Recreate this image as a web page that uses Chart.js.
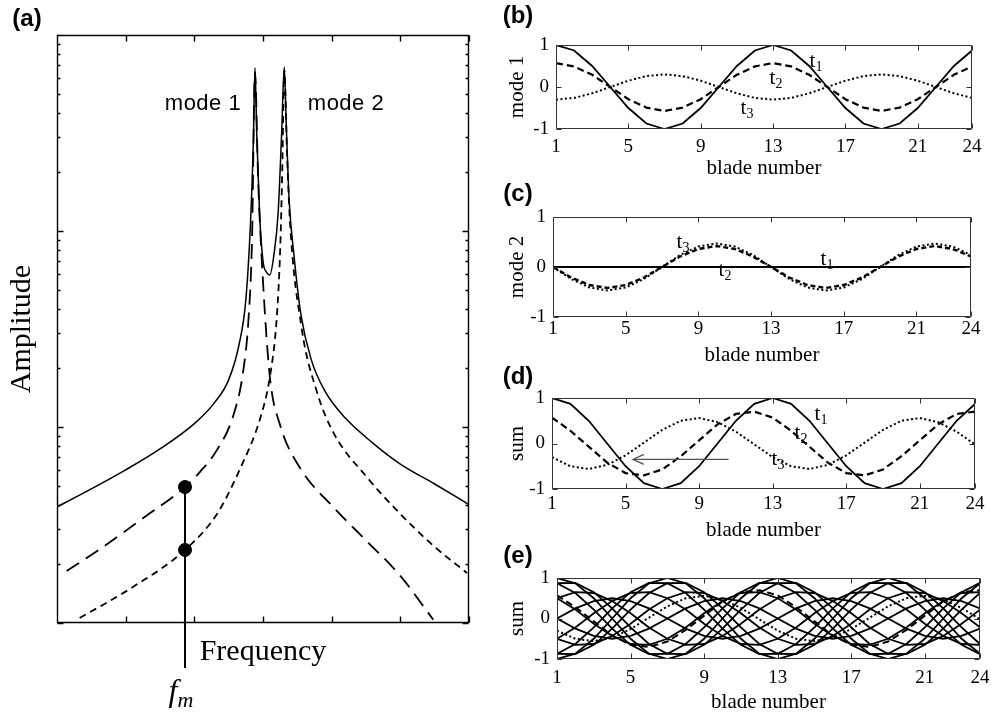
<!DOCTYPE html>
<html>
<head>
<meta charset="utf-8">
<script src="https://cdn.jsdelivr.net/npm/chart.js@4.4.1/dist/chart.umd.min.js"></script>
<style>
  html, body { margin: 0; padding: 0; background: #fff; }
  #fig { position: relative; width: 1002px; height: 714px; overflow: hidden; background: #fff; }
  canvas { position: absolute; }
  .lbl { position: absolute; transform: translate(-50%, -50%); white-space: nowrap; color: #000; line-height: 1; }
  .tag { font: bold 24px "Liberation Sans", Arial, sans-serif; }
  .sans { font-family: "Liberation Sans", Arial, sans-serif; font-size: 22px; letter-spacing: 0.5px; }
  .serif { font-family: "Liberation Serif", "Times New Roman", serif; }
  .t { font-size: 21px; }
  .t sub { font-size: 14px; line-height: 0; vertical-align: -4px; }
  .fm { font-size: 32px; font-style: italic; }
  .fm sub { font-size: 22px; line-height: 0; vertical-align: -6px; }
</style>
</head>
<body>
<div id="fig">
  <canvas id="chartA" width="480" height="714" style="left:0;top:0"></canvas>
  <canvas id="chartB" width="502" height="181" style="left:500px;top:0"></canvas>
  <canvas id="chartC" width="502" height="188" style="left:500px;top:180px"></canvas>
  <canvas id="chartD" width="502" height="183" style="left:500px;top:360px"></canvas>
  <canvas id="chartE" width="502" height="175" style="left:500px;top:540px"></canvas>

  <div class="lbl tag" style="left:27px;top:18px">(a)</div>
  <div class="lbl tag" style="left:518px;top:15px">(b)</div>
  <div class="lbl tag" style="left:518px;top:193px">(c)</div>
  <div class="lbl tag" style="left:518px;top:376px">(d)</div>
  <div class="lbl tag" style="left:518px;top:555px">(e)</div>

  <div class="lbl sans" style="left:203px;top:103px">mode 1</div>
  <div class="lbl sans" style="left:346px;top:103px">mode 2</div>
  <div class="lbl serif fm" style="left:181px;top:690px">f<sub>m</sub></div>

  <div class="lbl serif t" style="left:816px;top:60px">t<sub>1</sub></div>
  <div class="lbl serif t" style="left:776px;top:77px">t<sub>2</sub></div>
  <div class="lbl serif t" style="left:747px;top:107px">t<sub>3</sub></div>

  <div class="lbl serif t" style="left:683px;top:241px">t<sub>3</sub></div>
  <div class="lbl serif t" style="left:725px;top:269px">t<sub>2</sub></div>
  <div class="lbl serif t" style="left:827px;top:258px">t<sub>1</sub></div>

  <div class="lbl serif t" style="left:821px;top:413px">t<sub>1</sub></div>
  <div class="lbl serif t" style="left:801px;top:432px">t<sub>2</sub></div>
  <div class="lbl serif t" style="left:778px;top:458px">t<sub>3</sub></div>
</div>

<script>
// =========================
// DATA - panel (a), frequency response
// =========================
const freqTicks = [0, 1, 2, 3, 4, 5, 6];
const ampTicks = [1, 2, 3, 4, 5, 6, 7, 8, 9, 10, 20, 30, 40, 50, 60, 70, 80, 90,
                  100, 200, 300, 400, 500, 600, 700, 800, 900, 1000];
const ampMajor = [1, 10, 100, 1000];

const freqSum = [0, 0.5, 1.0, 1.5, 2.0, 2.3, 2.5, 2.65, 2.75, 2.82, 2.86, 2.883, 2.91, 2.95, 3.0, 3.05,
                 3.10, 3.16, 3.22, 3.27, 3.31, 3.34, 3.38, 3.45, 3.55, 3.7, 3.9, 4.2, 4.6, 5.0, 5.5, 6.0];
const ampSum = [3.91, 4.83, 6.04, 7.73, 10.4, 13.4, 17.4, 26.2, 44.5, 114, 291, 680, 305, 123, 70.3, 61.7,
                59.7, 75.9, 123, 305, 687, 339, 145, 75.9, 37.9, 22.2, 15.3, 11.1, 8.28, 6.47, 5.12, 4.02];

const freqMode1 = [0.14, 0.63, 1.26, 1.864, 2.08, 2.33, 2.57, 2.71, 2.79, 2.84, 2.883, 2.93, 3.0, 3.10,
                   3.25, 3.54, 4.02, 4.51, 5.0, 5.48];
const ampMode1 = [1.84, 2.39, 3.44, 4.94, 5.89, 7.64, 11.5, 19.1, 36.0, 89.9, 647, 179, 55.2, 18.0,
                  10.2, 6.18, 3.91, 2.62, 1.74, 1.04];

const freqMode2 = [0.33, 1.11, 1.864, 2.33, 2.67, 2.96, 3.10, 3.20, 3.25, 3.28, 3.31, 3.35, 3.39, 3.56,
                   3.78, 4.02, 4.51, 5.0, 5.48, 5.97];
const ampMode2 = [1.06, 1.53, 2.36, 3.60, 6.17, 11.1, 18.0, 36.0, 80.0, 200, 661, 251, 116, 32.4,
                  15.3, 9.44, 5.56, 3.60, 2.48, 1.80];

const fmFreq = [1.864, 1.864];
const fmAmp = [4.94, 0.59];
const dotFreq = [1.864, 1.864];
const dotAmp = [4.94, 2.36];

// =========================
// DATA - panels (b)-(e), blade displacements
// =========================
const blades = [1, 2, 3, 4, 5, 6, 7, 8, 9, 10, 11, 12, 13, 14, 15, 16, 17, 18, 19, 20, 21, 22, 23, 24];
const bladeTicks = [1, 5, 9, 13, 17, 21, 24];
const unitTicks = [-1, 0, 1];

const mode1T1 = [1, 0.87, 0.5, 0, -0.5, -0.87, -1, -0.87, -0.5, 0, 0.5, 0.87, 1, 0.87, 0.5, 0, -0.5, -0.87, -1, -0.87, -0.5, 0, 0.5, 0.87];
const mode1T2 = [0.57, 0.49, 0.29, 0, -0.29, -0.49, -0.57, -0.49, -0.29, 0, 0.29, 0.49, 0.57, 0.49, 0.29, 0, -0.29, -0.49, -0.57, -0.49, -0.29, 0, 0.29, 0.49];
const mode1T3 = [-0.3, -0.26, -0.15, 0, 0.15, 0.26, 0.3, 0.26, 0.15, 0, -0.15, -0.26, -0.3, -0.26, -0.15, 0, 0.15, 0.26, 0.3, 0.26, 0.15, 0, -0.15, -0.26];

const mode2T1 = [0, 0, 0, 0, 0, 0, 0, 0, 0, 0, 0, 0, 0, 0, 0, 0, 0, 0, 0, 0, 0, 0, 0, 0];
const mode2T2 = [0, -0.21, -0.36, -0.42, -0.36, -0.21, 0, 0.21, 0.36, 0.42, 0.36, 0.21, 0, -0.21, -0.36, -0.42, -0.36, -0.21, 0, 0.21, 0.36, 0.42, 0.36, 0.21];
const mode2T3 = [0, -0.24, -0.41, -0.47, -0.41, -0.24, 0, 0.24, 0.41, 0.47, 0.41, 0.24, 0, -0.24, -0.41, -0.47, -0.41, -0.24, 0, 0.24, 0.41, 0.47, 0.41, 0.24];

const sumT1 = [1, 0.87, 0.5, 0, -0.5, -0.87, -1, -0.87, -0.5, 0, 0.5, 0.87, 1, 0.87, 0.5, 0, -0.5, -0.87, -1, -0.87, -0.5, 0, 0.5, 0.87];
const sumT2 = [0.57, 0.28, -0.07, -0.42, -0.65, -0.70, -0.57, -0.28, 0.07, 0.42, 0.65, 0.70, 0.57, 0.28, -0.07, -0.42, -0.65, -0.70, -0.57, -0.28, 0.07, 0.42, 0.65, 0.70];
const sumT3 = [-0.3, -0.5, -0.56, -0.47, -0.26, 0.02, 0.3, 0.5, 0.56, 0.47, 0.26, -0.02, -0.3, -0.5, -0.56, -0.47, -0.26, 0.02, 0.3, 0.5, 0.56, 0.47, 0.26, -0.02];

// the sum at twelve instants over one period
const wave0 = [1, 0.87, 0.5, 0, -0.5, -0.87, -1, -0.87, -0.5, 0, 0.5, 0.87, 1, 0.87, 0.5, 0, -0.5, -0.87, -1, -0.87, -0.5, 0, 0.5, 0.87];
const wave1 = [0.87, 0.63, 0.22, -0.25, -0.65, -0.88, -0.87, -0.63, -0.22, 0.25, 0.65, 0.88, 0.87, 0.63, 0.22, -0.25, -0.65, -0.88, -0.87, -0.63, -0.22, 0.25, 0.65, 0.88];
const wave2 = [0.5, 0.22, -0.13, -0.43, -0.63, -0.65, -0.5, -0.22, 0.13, 0.43, 0.63, 0.65, 0.5, 0.22, -0.13, -0.43, -0.63, -0.65, -0.5, -0.22, 0.13, 0.43, 0.63, 0.65];
const wave3 = [0, -0.25, -0.43, -0.5, -0.43, -0.25, 0, 0.25, 0.43, 0.5, 0.43, 0.25, 0, -0.25, -0.43, -0.5, -0.43, -0.25, 0, 0.25, 0.43, 0.5, 0.43, 0.25];
const wave4 = [-0.5, -0.65, -0.63, -0.43, -0.13, 0.22, 0.5, 0.65, 0.63, 0.43, 0.13, -0.22, -0.5, -0.65, -0.63, -0.43, -0.13, 0.22, 0.5, 0.65, 0.63, 0.43, 0.13, -0.22];
const wave5 = [-0.87, -0.88, -0.65, -0.25, 0.22, 0.63, 0.87, 0.88, 0.65, 0.25, -0.22, -0.63, -0.87, -0.88, -0.65, -0.25, 0.22, 0.63, 0.87, 0.88, 0.65, 0.25, -0.22, -0.63];
const wave6 = [-1, -0.87, -0.5, 0, 0.5, 0.87, 1, 0.87, 0.5, 0, -0.5, -0.87, -1, -0.87, -0.5, 0, 0.5, 0.87, 1, 0.87, 0.5, 0, -0.5, -0.87];
const wave7 = [-0.87, -0.63, -0.22, 0.25, 0.65, 0.88, 0.87, 0.63, 0.22, -0.25, -0.65, -0.88, -0.87, -0.63, -0.22, 0.25, 0.65, 0.88, 0.87, 0.63, 0.22, -0.25, -0.65, -0.88];
const wave8 = [-0.5, -0.22, 0.13, 0.43, 0.63, 0.65, 0.5, 0.22, -0.13, -0.43, -0.63, -0.65, -0.5, -0.22, 0.13, 0.43, 0.63, 0.65, 0.5, 0.22, -0.13, -0.43, -0.63, -0.65];
const wave9 = [0, 0.25, 0.43, 0.5, 0.43, 0.25, 0, -0.25, -0.43, -0.5, -0.43, -0.25, 0, 0.25, 0.43, 0.5, 0.43, 0.25, 0, -0.25, -0.43, -0.5, -0.43, -0.25];
const wave10 = [0.5, 0.65, 0.63, 0.43, 0.13, -0.22, -0.5, -0.65, -0.63, -0.43, -0.13, 0.22, 0.5, 0.65, 0.63, 0.43, 0.13, -0.22, -0.5, -0.65, -0.63, -0.43, -0.13, 0.22];
const wave11 = [0.87, 0.88, 0.65, 0.25, -0.22, -0.63, -0.87, -0.88, -0.65, -0.25, 0.22, 0.63, 0.87, 0.88, 0.65, 0.25, -0.22, -0.63, -0.87, -0.88, -0.65, -0.25, 0.22, 0.63];
const waves = [wave0, wave1, wave2, wave3, wave4, wave5, wave6, wave7, wave8, wave9, wave10, wave11];

// travelling direction arrow in (d): [blade, value]
const arrowTail = [10.6, -0.35];
const arrowHead = [5.4, -0.35];

// =========================
// HELPERS
// =========================
const serif = '"Liberation Serif", "Times New Roman", serif';
const DASH = [7, 4];
const DOT = [2, 2.5];

function toXY(xs, ys) {
  return xs.map((x, i) => ({ x: x, y: ys[i] }));
}

function line(xs, ys, dash, width) {
  return {
    data: toXY(xs, ys),
    showLine: true,
    borderColor: "#000",
    borderWidth: width,
    borderDash: dash,
    pointRadius: 0,
    fill: false
  };
}

// matlab style box with inward ticks on all four sides
const boxTicks = {
  id: "boxTicks",
  afterDatasetsDraw(chart, args, opts) {
    const { ctx, chartArea: a } = chart;
    const L = Math.round(a.left) + 0.5, R = Math.round(a.right) - 0.5;
    const T = Math.round(a.top) + 0.5, B = Math.round(a.bottom) - 0.5;
    ctx.save();
    ctx.strokeStyle = opts.color;
    ctx.lineWidth = opts.width;
    ctx.beginPath();
    for (const id of ["x", "y"]) {
      const sc = chart.scales[id];
      sc.ticks.forEach(t => {
        const len = t.major === false ? opts.len * 0.5 : opts.len;
        const p = Math.round(sc.getPixelForValue(t.value)) + 0.5;
        if (id === "x") {
          ctx.moveTo(p, B); ctx.lineTo(p, B - len);
          ctx.moveTo(p, T); ctx.lineTo(p, T + len);
        } else {
          ctx.moveTo(L, p); ctx.lineTo(L + len, p);
          ctx.moveTo(R, p); ctx.lineTo(R - len, p);
        }
      });
    }
    ctx.rect(L, T, R - L, B - T);
    ctx.stroke();
    ctx.restore();
  }
};

const arrowPlugin = {
  id: "arrow",
  afterDatasetsDraw(chart) {
    const { ctx, scales: { x, y } } = chart;
    const x0 = x.getPixelForValue(arrowTail[0]), y0 = y.getPixelForValue(arrowTail[1]);
    const x1 = x.getPixelForValue(arrowHead[0]), y1 = y.getPixelForValue(arrowHead[1]);
    ctx.save();
    ctx.strokeStyle = "#555";
    ctx.lineWidth = 1.3;
    ctx.beginPath();
    ctx.moveTo(x0, y0); ctx.lineTo(x1, y1);
    ctx.moveTo(x1 + 11, y1 - 5); ctx.lineTo(x1, y1); ctx.lineTo(x1 + 11, y1 + 5);
    ctx.stroke();
    ctx.restore();
  }
};

const baseOptions = {
  responsive: false,
  animation: false,
  devicePixelRatio: 1,
  events: []
};

// =========================
// PANEL (a)
// =========================
new Chart(document.getElementById("chartA"), {
  type: "scatter",
  data: {
    datasets: [
      Object.assign(line(freqSum, ampSum, [], 1.5), { cubicInterpolationMode: "monotone" }),
      Object.assign(line(freqMode1, ampMode1, [15, 8], 1.8), { cubicInterpolationMode: "monotone" }),
      Object.assign(line(freqMode2, ampMode2, [7, 5], 1.8), { cubicInterpolationMode: "monotone" }),
      Object.assign(line(fmFreq, fmAmp, [], 2), { clip: false }),
      {
        data: toXY(dotFreq, dotAmp),
        showLine: false,
        pointRadius: 6.5,
        pointBackgroundColor: "#000",
        pointBorderColor: "#000"
      }
    ]
  },
  options: Object.assign({}, baseOptions, {
    layout: { padding: { top: 35, right: 11, bottom: 0, left: 0 } },
    plugins: {
      legend: { display: false },
      tooltip: { enabled: false },
      boxTicks: { color: "#000", width: 1.4, len: 6 }
    },
    scales: {
      x: {
        type: "linear", min: 0, max: 6,
        afterBuildTicks: s => { s.ticks = freqTicks.map(v => ({ value: v })); },
        afterFit: s => { s.height = 91; },
        grid: { display: false, drawTicks: false },
        border: { display: false },
        ticks: { display: false },
        title: {
          display: true, text: "Frequency", color: "#000",
          font: { family: serif, size: 30 },
          padding: { top: 0, bottom: 44 }
        }
      },
      y: {
        type: "logarithmic", min: 1, max: 1000,
        afterBuildTicks: s => { s.ticks = ampTicks.map(v => ({ value: v, major: ampMajor.includes(v) })); },
        afterFit: s => { s.width = 57; },
        grid: { display: false, drawTicks: false },
        border: { display: false },
        ticks: { display: false },
        title: {
          display: true, text: "Amplitude", color: "#000",
          font: { family: serif, size: 30 },
          padding: { top: 4, bottom: 0 }
        }
      }
    }
  }),
  plugins: [boxTicks]
});

// =========================
// PANELS (b)-(e)
// =========================
function bladePanel(id, p) {
  return new Chart(document.getElementById(id), {
    type: "scatter",
    data: { datasets: p.datasets },
    options: Object.assign({}, baseOptions, {
      layout: { padding: { top: p.top, right: p.right, bottom: 0, left: 0 } },
      plugins: {
        legend: { display: false },
        tooltip: { enabled: false },
        boxTicks: { color: "#333", width: 1, len: 5 }
      },
      scales: {
        x: {
          type: "linear", min: 1, max: 24,
          afterBuildTicks: s => { s.ticks = bladeTicks.map(v => ({ value: v })); },
          afterFit: s => { s.height = p.xh; },
          grid: { display: false, drawTicks: false },
          border: { display: false },
          ticks: { color: "#000", font: { family: serif, size: 19 }, padding: p.xpad, autoSkip: false, maxRotation: 0 },
          title: {
            display: true, text: "blade number", color: "#000",
            font: { family: serif, size: 21 },
            padding: { top: 0, bottom: 0 }
          }
        },
        y: {
          type: "linear", min: -1, max: 1,
          afterBuildTicks: s => { s.ticks = unitTicks.map(v => ({ value: v })); },
          afterFit: s => { s.width = p.yw; },
          grid: { display: false, drawTicks: false },
          border: { display: false },
          ticks: { color: "#000", font: { family: serif, size: 19 }, padding: 7, autoSkip: false },
          title: {
            display: true, text: p.ytitle, color: "#000",
            font: { family: serif, size: 21 },
            padding: { top: 5, bottom: 0 }
          }
        }
      }
    }),
    plugins: p.arrow ? [boxTicks, arrowPlugin] : [boxTicks]
  });
}

bladePanel("chartB", {
  top: 45, right: 30, xh: 52, yw: 56, xpad: 7, ytitle: "mode 1",
  datasets: [
    line(blades, mode1T1, [], 1.8),
    line(blades, mode1T2, DASH, 2.2),
    line(blades, mode1T3, DOT, 2)
  ]
});

bladePanel("chartC", {
  top: 37, right: 31, xh: 51, yw: 53, xpad: 1, ytitle: "mode 2",
  datasets: [
    line(blades, mode2T1, [], 2),
    line(blades, mode2T2, [5, 3], 2.4),
    line(blades, mode2T3, DOT, 2)
  ]
});

bladePanel("chartD", {
  top: 38, right: 27, xh: 54, yw: 52, xpad: 4, ytitle: "sum", arrow: true,
  datasets: [
    line(blades, sumT1, [], 1.8),
    line(blades, sumT2, DASH, 2.2),
    line(blades, sumT3, DOT, 2)
  ]
});

bladePanel("chartE", {
  top: 38, right: 22, xh: 56, yw: 57, xpad: 8, ytitle: "sum",
  datasets: waves.map(w => line(blades, w, [], 1.8)).concat([
    line(blades, sumT2, DASH, 2),
    line(blades, sumT3, DOT, 2)
  ])
});
</script>
</body>
</html>
